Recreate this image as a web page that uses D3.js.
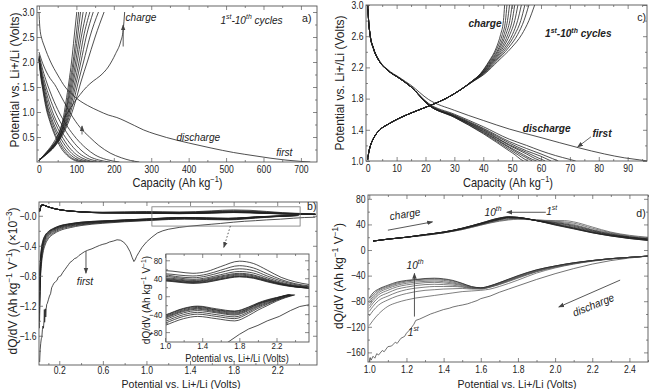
<!DOCTYPE html>
<html><head><meta charset="utf-8">
<script src="https://cdn.jsdelivr.net/npm/d3@7/dist/d3.min.js"></script>
<style>html,body{margin:0;padding:0;background:#fff;}svg{display:block;}</style>
</head><body>
<svg id="chart" width="649" height="389"></svg>
<script>
// ================= DATA =================
// ---- panel a : potential (V) vs capacity (Ah/kg) ----
const aTickX=[0,100,200,300,400,500,600,700];
const aTickY=[0.5,1.0,1.5,2.0,2.5,3.0];
const aDis1=[[0,3.0],[2,2.72],[4,2.58],[7,2.48],[15,2.3],[30,2.02],[50,1.74],[70,1.5],[90,1.34],[110,1.22],[130,1.13],[160,1.02],[185,0.94],[208,0.89],[230,0.82],[255,0.73],[280,0.64],[310,0.56],[341,0.49],[400,0.38],[460,0.28],[520,0.19],[580,0.12],[620,0.075],[660,0.038],[700,0.012],[725,0.0]];
const aDisCycles=[
 [[0,2.2],[10,1.97],[20,1.8],[30,1.67],[42,1.55],[60,1.3],[85,0.96],[110,0.69],[135,0.5],[160,0.33],[190,0.18],[220,0.085],[245,0.03],[268,0.0]],
 [[0,2.15],[8,1.9],[18,1.65],[30,1.4],[50,1.05],[75,0.72],[100,0.47],[125,0.28],[150,0.14],[180,0.05],[215,0.0]],
 [[0,2.12],[7,1.85],[16,1.58],[28,1.3],[45,0.98],[68,0.66],[90,0.42],[112,0.24],[135,0.11],[160,0.04],[190,0.0]],
 [[0,2.1],[6,1.82],[14,1.55],[25,1.25],[40,0.93],[60,0.62],[82,0.38],[102,0.21],[125,0.09],[148,0.03],[170,0.0]],
 [[0,2.08],[6,1.8],[13,1.52],[23,1.2],[37,0.9],[55,0.6],[75,0.35],[95,0.18],[115,0.08],[138,0.02],[155,0.0]],
 [[0,2.07],[5,1.78],[12,1.5],[21,1.17],[34,0.87],[51,0.57],[70,0.33],[88,0.17],[107,0.07],[128,0.02],[145,0.0]],
 [[0,2.06],[5,1.76],[11,1.48],[20,1.15],[32,0.85],[48,0.55],[65,0.31],[83,0.15],[100,0.06],[120,0.015],[135,0.0]],
 [[0,2.05],[5,1.75],[11,1.46],[19,1.13],[30,0.83],[45,0.53],[61,0.3],[78,0.14],[95,0.05],[113,0.01],[125,0.0]],
 [[0,2.04],[4,1.74],[10,1.45],[18,1.11],[29,0.81],[43,0.52],[58,0.29],[74,0.14],[90,0.05],[106,0.01],[117,0.0]]
];
const aChg1=[[0,0.03],[20,0.2],[40,0.4],[55,0.62],[65,0.84],[78,1.0],[92,1.17],[110,1.35],[127,1.5],[145,1.62],[163,1.72],[185,1.9],[205,2.17],[218,2.4],[225,2.64],[229,3.0]];
const aChgV=[0.03,0.15,0.3,0.5,0.8,1.2,1.6,2.0,2.5,3.0];
const aChgCap=[
 [0,20,41,60,79,97,112,129,150,174],
 [0,19,40,58,76,92,105,119,136,159],
 [0,18,39,57,74,88,100,112,126,145],
 [0,18,38,56,72,85,96,107,119,136],
 [0,17,37,55,70,82,92,102,113,127],
 [0,17,36,54,68,79,89,98,108,118],
 [0,16,35,53,67,77,86,94,103,111],
 [0,16,34,52,65,75,83,91,99,106],
 [0,15,33,50,63,72,80,87,94,101]
];

// ---- panel c ----
const cTickX=[0,10,20,30,40,50,60,70,80,90];
const cTickY=[1.0,1.4,1.8,2.2,2.6,3.0];
const cDis=[
 [[0,3.0],[0.3,2.8],[0.8,2.63],[2,2.45],[4,2.29],[7,2.17],[11,2.07],[15,1.97],[21,1.79],[30,1.65],[40,1.52],[49,1.41],[60,1.3],[73,1.17],[82,1.09],[89,1.04],[94,1.015],[97,1.0]],
 [[0,3.0],[0.3,2.8],[0.8,2.62],[2,2.44],[4,2.28],[7,2.16],[11,2.06],[15,1.95],[21,1.74],[30,1.6],[40,1.44],[49,1.28],[55,1.2],[60,1.13],[65,1.07],[70,1.02],[72,1.0]],
 [[0,3.0],[0.3,2.8],[0.8,2.62],[2,2.44],[4,2.28],[7,2.16],[11,2.06],[15,1.95],[21,1.73],[30,1.59],[40,1.42],[49,1.25],[55,1.16],[60,1.09],[64,1.03],[66,1.0]],
 [[0,3.0],[0.3,2.8],[0.8,2.62],[2,2.44],[4,2.28],[7,2.16],[11,2.06],[15,1.95],[21,1.73],[30,1.58],[40,1.41],[49,1.23],[55,1.13],[60,1.06],[63.5,1.0]],
 [[0,3.0],[0.3,2.8],[0.8,2.62],[2,2.44],[4,2.28],[7,2.16],[11,2.06],[15,1.95],[21,1.72],[30,1.58],[40,1.4],[49,1.21],[55,1.11],[59,1.04],[61.5,1.0]],
 [[0,3.0],[0.3,2.8],[0.8,2.62],[2,2.44],[4,2.28],[7,2.16],[11,2.06],[15,1.95],[21,1.72],[30,1.57],[40,1.39],[49,1.2],[55,1.09],[58,1.03],[60,1.0]],
 [[0,3.0],[0.3,2.8],[0.8,2.62],[2,2.44],[4,2.28],[7,2.16],[11,2.06],[15,1.95],[21,1.72],[30,1.57],[40,1.38],[49,1.18],[54,1.08],[57,1.02],[58.5,1.0]],
 [[0,3.0],[0.3,2.8],[0.8,2.62],[2,2.44],[4,2.28],[7,2.16],[11,2.06],[15,1.95],[21,1.72],[30,1.57],[40,1.37],[49,1.17],[53,1.08],[56,1.02],[57,1.0]],
 [[0,3.0],[0.3,2.8],[0.8,2.62],[2,2.44],[4,2.28],[7,2.16],[11,2.06],[15,1.95],[21,1.72],[30,1.56],[40,1.36],[49,1.15],[52,1.08],[54.5,1.02],[55.5,1.0]],
 [[0,3.0],[0.3,2.8],[0.8,2.62],[2,2.44],[4,2.28],[7,2.16],[11,2.06],[15,1.95],[21,1.72],[30,1.56],[40,1.35],[49,1.13],[51,1.08],[53,1.02],[54,1.0]]
];
const cChgV=[1.02,1.1,1.18,1.29,1.4,1.47,1.55,1.63,1.71,1.8,1.91,2.02,2.12,2.28,2.45,2.62,2.8,3.0];
const cChgCap=[
 [0,0.3,0.8,2,4.2,7,11,16,21.5,27,32,36.5,40.6,45.1,49.7,53.3,55.8,57.8],
 [0,0.3,0.8,2,4.2,7,11,16,21.5,27,32,36.4,40.3,44.5,48.7,51.9,54.1,55.8],
 [0,0.3,0.8,2,4.2,7,11,16,21.5,27,32,36.3,40.0,44.1,48.0,50.9,53.0,54.4],
 [0,0.3,0.8,2,4.2,7,11,16,21.5,27,32,36.2,39.9,43.7,47.4,50.1,51.9,53.2],
 [0,0.3,0.8,2,4.2,7,11,16,21.5,27,32,36.1,39.7,43.4,46.8,49.2,50.9,52.0],
 [0,0.3,0.8,2,4.2,7,11,16,21.5,27,32,36.1,39.5,43.1,46.3,48.5,50.0,50.9],
 [0,0.3,0.8,2,4.2,7,11,16,21.5,27,32,36,39.4,42.8,45.8,47.8,49.2,50.0],
 [0,0.3,0.8,2,4.2,7,11,16,21.5,27,32,36,39.3,42.5,45.4,47.2,48.4,49.1],
 [0,0.3,0.8,2,4.2,7,11,16,21.5,27,32,36,39.1,42.2,44.9,46.6,47.7,48.2],
 [0,0.3,0.8,2,4.2,7,11,16,21.5,27,32,36,39.0,42.0,44.5,46.0,47.0,47.4]
];

// ---- panel b : dQ/dV (Ah kg-1 V-1) vs potential ----
const bTickX=[0.2,0.6,1.0,1.4,1.8,2.2];
const bTickY=[0,-400,-800,-1200,-1600];
const insTickX=[1.0,1.4,1.8,2.2];
const insTickY=[80,40,0,-40,-80];
const bChgV=[0.02,0.03,0.04,0.06,0.1,0.15,0.2,0.3,0.4,0.6,0.8,1.0,1.15,1.3,1.45,1.6,1.8,1.95,2.1,2.25,2.4,2.55];
const bChg=[
 [60,120,145,140,118,97,82,64,54,48,52,57,54,51,55,66,78,73,58,42,32,26],
 [60,120,145,140,118,97,82,63,53,45,48,50,47,45,49,58,68,63,50,37,28,23],
 [60,120,145,140,118,97,82,63,52,43,45,47,43,41,45,53,61,57,45,34,26,21],
 [60,120,145,140,118,97,82,63,52,42,43,44,40.5,37.5,41,48,55,51.5,41,31,24,20],
 [60,120,145,140,118,97,82,63,52,41,41,41,38,35,38.5,45,51,47.5,38,29,23,19],
 [60,120,145,140,118,97,82,63,52,40,40,39,36,33,36.5,43,49,45.5,36.5,28,22,18.5],
 [60,120,145,140,118,97,82,63,52,40,38.5,37.5,34.5,32,35,41,47,43.5,35,27,21.5,18],
 [60,120,145,140,118,97,82,63,52,39,37,36,33,30.5,33.5,39,45,42,34,26.5,21,18],
 [60,120,145,140,118,97,82,63,52,39,36,35,32,29.5,32,38,44,41,33,26,21,18],
 [60,120,145,140,118,97,82,63,52,38,35,34,31,28.5,31,37,43,40,32,25,20.5,18]
];
const bDisV=[0.018,0.025,0.035,0.05,0.07,0.1,0.15,0.2,0.3,0.4,0.6,0.8,1.0,1.2,1.35,1.55,1.75,1.9,2.0,2.1,2.2,2.3];
const bDis=[
 [-1500,-950,-680,-500,-390,-305,-240,-200,-158,-130,-100,-80,-65,-50,-45,-50,-55,-43,-31,-21,-11,-3],
 [-1400,-880,-630,-460,-360,-285,-225,-185,-145,-120,-92,-74,-60,-45,-40,-45,-50,-38,-27,-18,-9,-2],
 [-1300,-820,-590,-430,-335,-265,-210,-172,-135,-112,-86,-69,-56,-41,-36,-41,-46,-35,-24,-16,-8,-1],
 [-1250,-780,-560,-405,-315,-250,-198,-162,-127,-105,-81,-65,-52,-37,-32,-37,-42,-32,-22,-14,-7,0],
 [-1200,-740,-530,-385,-300,-238,-188,-154,-120,-99,-77,-62,-49,-34,-29,-35,-40,-30,-20,-12,-6,1],
 [-1150,-710,-505,-368,-287,-228,-180,-147,-114,-94,-74,-59,-47,-32,-27,-33,-38,-28,-18,-11,-5,1.5],
 [-1100,-690,-485,-355,-277,-220,-174,-142,-110,-90,-71,-57,-45,-30,-25,-31,-36,-27,-17,-10,-4,2],
 [-1050,-670,-465,-342,-268,-214,-169,-138,-107,-87,-69,-56,-43,-28,-23,-30,-34,-25,-16,-9,-3.5,2],
 [-1000,-650,-450,-330,-260,-210,-165,-135,-105,-85,-68,-55,-42,-27,-22,-28,-33,-24,-15,-8,-3,1]
];
const bDisEnd=[[2.4,3],[2.39,3],[2.38,3],[2.37,3],[2.36,3],[2.35,3],[2.35,3.5],[2.34,3.5],[2.33,3]];
const bDis1=[[0.02,-1950],[0.025,-1780],[0.03,-1700],[0.035,-1640],[0.04,-1620],[0.045,-1520],[0.05,-1470],[0.055,-1500],[0.06,-1400],[0.063,-1250],[0.066,-1420],[0.07,-1300],[0.073,-1240],[0.076,-1350],[0.08,-1240],[0.085,-1180],[0.09,-1170],[0.1,-1120],[0.11,-1070],[0.12,-1040],[0.13,-960],[0.14,-930],[0.15,-900],[0.165,-880],[0.18,-860],[0.19,-820],[0.2,-810],[0.215,-800],[0.23,-760],[0.25,-720],[0.27,-680],[0.285,-650],[0.3,-620],[0.32,-600],[0.34,-570],[0.36,-560],[0.38,-530],[0.4,-510],[0.43,-480],[0.46,-460],[0.5,-440],[0.53,-420],[0.57,-395],[0.6,-380],[0.63,-370],[0.66,-350],[0.7,-335],[0.73,-320],[0.76,-325],[0.79,-350],[0.82,-400],[0.85,-480],[0.87,-560],[0.885,-610],[0.895,-590],[0.91,-540],[0.93,-490],[0.96,-420],[1.0,-350],[1.05,-285],[1.1,-230],[1.15,-200],[1.2,-180],[1.3,-155],[1.4,-138],[1.5,-125],[1.6,-112],[1.68,-102],[1.8,-85],[1.9,-73],[2.0,-65],[2.1,-55],[2.23,-45],[2.35,-32],[2.45,-23],[2.55,-19]];

// ---- panel d ----
const dTickX=[1.0,1.2,1.4,1.6,1.8,2.0,2.2,2.4];
const dTickY=[80,40,0,-40,-80,-120,-160];
const dChgV=[1.02,1.1,1.2,1.3,1.4,1.5,1.6,1.7,1.75,1.8,1.9,2.0,2.05,2.1,2.2,2.3,2.4,2.5];
const dChg=[
 [14,17,20,23,27,32,39,45,47,48,47,46,46,44,36,28,23,20],
 [14,17,20,23,27,32,39,46,48,49,47,45,44,42,34,27,22,19],
 [14,17,20,23,27,33,40,47,49,49.5,46.5,44,42.5,40,32,26,21,18],
 [14,17,20,24,27,33,40,47.5,50,50,46,43,41,38.5,31,25,20.5,17.5],
 [14,17,20,24,28,33,41,48,50.5,50.5,46,42,40,37,30,24,20,17],
 [14,17,20,24,28,33.5,41,48.5,51,50.5,46,41,38.5,35.5,29,23.5,19.5,16.5],
 [14,17,20,24,28,34,41.5,49,51.5,51,46,40.5,37.5,34.5,28,23,19,16],
 [14,17,20,24,28,34,41.5,49.5,51.5,51,46,40,37,34,27.5,22.5,18.5,15.5],
 [14,17,20,24,28,34,42,50,52,51,46,39.5,36.5,33.5,27,22,18,15],
 [14,17,20,24,28,34,42,50,52,51,46,39,36,33,27,22,18,15]
];
const dDisV=[1.0,1.02,1.05,1.1,1.15,1.2,1.25,1.3,1.35,1.4,1.45,1.5,1.55,1.6,1.65,1.7,1.8,1.9,2.0,2.1,2.2,2.3,2.4,2.5];
const dDis=[
 [-118,-110,-100,-88,-82,-78,-75,-73,-71,-69,-67,-65,-64,-63,-61,-57,-47,-36,-28,-22,-17.5,-14,-11.5,-9.5],
 [-103,-95,-86,-78,-72,-68,-65,-63,-62,-61,-60.5,-60,-61,-61,-58,-54,-44,-34,-27,-21.5,-17,-14,-11.5,-9.5],
 [-96,-88,-79,-72,-66,-62,-59.5,-58,-57,-57,-57,-58,-60,-60.5,-58,-53.5,-43,-33.5,-26.5,-21,-17,-13.5,-11.5,-9.5],
 [-91,-83,-74,-67,-61,-58,-55.5,-54,-53.5,-54,-55,-57,-59.5,-60,-57.5,-53,-42.5,-33,-26,-21,-16.5,-13.5,-11.5,-9.5],
 [-87,-79,-70,-63,-57.5,-54.5,-52.5,-51,-50.5,-51.5,-53,-55.5,-59,-60,-57,-52.5,-42,-32.5,-25.5,-20.5,-16.5,-13.5,-11.5,-9.5],
 [-83,-76,-67,-60,-55,-52,-50,-49,-48.5,-49.5,-51.5,-54.5,-58.5,-59.5,-56.5,-52,-41.5,-32,-25.5,-20.5,-16.5,-13.5,-11.5,-9.5],
 [-80,-73,-64.5,-58,-53,-50,-48,-47,-46.5,-47.5,-50,-53.5,-58,-59.5,-56.5,-51.5,-41,-31.5,-25,-20,-16.5,-13.5,-11.5,-9.5],
 [-77,-70,-62.5,-56.5,-51.5,-48.5,-46.5,-45.5,-45,-46,-48.5,-52.5,-57.5,-59,-56,-51,-40.5,-31,-25,-20,-16.5,-13.5,-11.5,-9.5],
 [-75,-67,-61,-55,-50,-47.5,-46,-44.5,-44,-45,-47.5,-52,-57,-59,-56,-51,-40,-31,-25,-20,-16.5,-13.5,-11.5,-9.5]
];
const dDis1=[[1.0,-175],[1.005,-168],[1.01,-172],[1.02,-166],[1.03,-169],[1.04,-162],[1.05,-164],[1.07,-157],[1.08,-159],[1.1,-151],[1.12,-150],[1.14,-144],[1.15,-146],[1.17,-138],[1.19,-135],[1.2,-130],[1.22,-124],[1.24,-116],[1.25,-110],[1.27,-108],[1.3,-104],[1.33,-100],[1.35,-98],[1.38,-95],[1.4,-93],[1.43,-91],[1.45,-89],[1.48,-87],[1.5,-86],[1.53,-84],[1.55,-82],[1.58,-79],[1.6,-76],[1.65,-72],[1.7,-66],[1.75,-61],[1.8,-56],[1.9,-46],[2.0,-37],[2.1,-29],[2.2,-22],[2.3,-16.5],[2.4,-12.5],[2.5,-9.5]];

// ================= DRAWING =================
const FONT='Arial,"Liberation Sans",Helvetica,sans-serif';
const svg=d3.select('#chart');
const defs=svg.append('defs');
defs.append('marker').attr('id','ah').attr('viewBox','0 0 8 8').attr('refX',7).attr('refY',4)
  .attr('markerWidth',6).attr('markerHeight',6).attr('markerUnits','userSpaceOnUse').attr('orient','auto')
  .append('path').attr('d','M0,1 L8,4 L0,7 Z').attr('fill','#444');

function makePanel(o){
  const x=d3.scaleLinear().domain(o.xd).range([o.l,o.r]);
  const y=d3.scaleLinear().domain(o.yd).range([o.b,o.t]);
  const root=svg.append('g');
  root.append('rect').attr('x',o.l).attr('y',o.t).attr('width',o.r-o.l).attr('height',o.b-o.t).attr('fill','#fff');
  defs.append('clipPath').attr('id','clip-'+o.id).append('rect')
    .attr('x',o.l).attr('y',o.t).attr('width',o.r-o.l).attr('height',o.b-o.t);
  const plot=root.append('g').attr('clip-path',`url(#clip-${o.id})`);
  const ax=root.append('g');
  const fs=o.fs||10.5, tsx=o.tsx||0.82;
  function axis(gen,tr,vals,size,fmt,pad){
    const a=ax.append('g').attr('transform',tr)
      .call(gen.tickValues(vals).tickSizeInner(size).tickSizeOuter(0).tickPadding(pad).tickFormat(fmt));
    a.select('.domain').remove();
    a.selectAll('line').attr('stroke','#555').attr('stroke-width',0.7);
    a.selectAll('text').attr('font-family',FONT).attr('font-size',fs).attr('fill','#222')
      .attr('transform',`scale(${tsx},1)`);
    return a;
  }
  const none=()=> '';
  axis(d3.axisBottom(x),`translate(0,${o.b})`,o.xt,-4,o.xf,o.xpad??4);
  axis(d3.axisBottom(x),`translate(0,${o.b})`,o.xm,-2,none,4);
  axis(d3.axisTop(x),`translate(0,${o.t})`,o.xt,-4,none,4);
  axis(d3.axisTop(x),`translate(0,${o.t})`,o.xm,-2,none,4);
  axis(d3.axisLeft(y),`translate(${o.l},0)`,o.yt,-4,o.yf,o.ypad??3);
  axis(d3.axisLeft(y),`translate(${o.l},0)`,o.ym,-2,none,3);
  axis(d3.axisRight(y),`translate(${o.r},0)`,o.yt,-4,none,3);
  axis(d3.axisRight(y),`translate(${o.r},0)`,o.ym,-2,none,3);
  root.append('rect').attr('x',o.l).attr('y',o.t).attr('width',o.r-o.l).attr('height',o.b-o.t)
    .attr('fill','none').attr('stroke','#555').attr('stroke-width',0.9);
  return {x,y,plot,root};
}

function draw(P,data,opt={}){
  const ln=d3.line().x(d=>P.x(d[0])).y(d=>P.y(d[1])).curve(opt.curve||d3.curveMonotoneX);
  P.plot.append('path').datum(data).attr('d',ln).attr('fill','none')
    .attr('stroke',opt.color||'#222').attr('stroke-width',opt.w||0.8).attr('stroke-linejoin','round');
}

function label(parent,x,y,parts,o={}){
  const size=o.size||12;
  const g=parent.append('g').attr('transform',`translate(${x},${y})`+(o.rot?` rotate(${o.rot})`:'')+` scale(${o.sx??0.92},1)`);
  const t=g.append('text').attr('text-anchor',o.anchor||'middle').attr('font-size',size)
    .attr('font-family',FONT).attr('fill',o.fill||'#222').attr('dy','0.35em');
  if(o.italic) t.attr('font-style','italic');
  if(o.bold) t.attr('font-weight','bold');
  if(typeof parts==='string') parts=[parts];
  let shifted=false;
  parts.forEach(p=>{
    if(typeof p==='string'){ const s=t.append('tspan').text(p); if(shifted){s.attr('dy',(size*0.4).toFixed(2)); shifted=false;} }
    else { t.append('tspan').text(p.sup).attr('font-size',(size*0.68).toFixed(2)).attr('dy',(-size*0.4).toFixed(2)); shifted=true; }
  });
  return g;
}
function arrow(parent,x1,y1,x2,y2,o={}){
  parent.append('line').attr('x1',x1).attr('y1',y1).attr('x2',x2).attr('y2',y2)
    .attr('stroke',o.color||'#444').attr('stroke-width',o.w||0.9)
    .attr('stroke-dasharray',o.dash||null).attr('marker-end','url(#ah)');
}
const f1=d3.format('.1f'), fd=d3.format('d');

// ---------- panel a ----------
const A=makePanel({id:'a',l:37,r:317,t:6,b:162,xd:[-5.3,743],yd:[0,3.12],
  xt:aTickX,xm:d3.range(50,743,50).filter(v=>v%100),xf:fd,
  yt:aTickY,ym:d3.range(0.25,3.1,0.25).filter(v=>Math.abs(v*2-Math.round(v*2))>0.01),yf:f1});
aDisCycles.forEach(c=>draw(A,c));
draw(A,aDis1);
aChgCap.forEach(c=>draw(A,d3.zip(c,aChgV)));
draw(A,aChg1);
arrow(A.root,A.x(225),A.y(2.31),A.x(225),A.y(2.74));
arrow(A.root,A.x(115),A.y(0.55),A.x(115),A.y(0.72),{w:0.8});
label(svg,177.5,182.7,['Capacity (Ah kg',{sup:'−1'},')']);
label(svg,15,80,'Potential vs. Li+/Li (Volts)',{rot:-90,sx:1});
label(svg,141,16.7,'charge',{italic:true,size:11});
label(svg,251.5,20,['1',{sup:'st'},'-10',{sup:'th'},' cycles'],{italic:true,size:11});
label(svg,198.3,136.7,'discharge',{italic:true,size:11});
label(svg,284.3,151.7,'first',{italic:true,size:11});
label(svg,306.7,18.3,'a)',{size:11.5});

// ---------- panel c ----------
const C=makePanel({id:'c',l:366,r:647,t:5,b:161,xd:[-0.6,96.7],yd:[1.0,3.0],
  xt:cTickX,xm:d3.range(5,96,10),xf:fd,
  yt:cTickY,ym:[1.2,1.6,2.0,2.4,2.8],yf:f1});
cDis.forEach(c=>draw(C,c));
cChgCap.forEach(c=>draw(C,d3.zip(c,cChgV)));
arrow(C.root,C.x(77.3),C.y(1.31),C.x(72.7),C.y(1.18),{w:0.8});
label(svg,508,182.7,['Capacity (Ah kg',{sup:'−1'},')']);
label(svg,340,83,'Potential vs. Li+/Li (Volts)',{rot:-90,sx:1});
label(svg,485,22.7,'charge',{italic:true,bold:true,size:11});
label(svg,578.3,33.3,['1',{sup:'st'},'-10',{sup:'th'},' cycles'],{italic:true,bold:true,size:11});
label(svg,546.7,127.7,'discharge',{italic:true,bold:true,size:11});
label(svg,602,133.3,'first',{italic:true,bold:true,size:11});
label(svg,641.7,16.7,'c)',{size:11.5});

// ---------- panel b ----------
const B=makePanel({id:'b',l:39,r:317,t:202,b:365,xd:[0.014,2.565],yd:[-1990,184],
  xt:bTickX,xm:[0.1,0.4,0.8,1.2,1.6,2.0,2.4],xf:f1,xpad:1.5,
  yt:bTickY,ym:[-200,-600,-1000,-1400,-1800],yf:d=>d===0?'−0.0':f1(d/1000)});
bDis.forEach((c,i)=>draw(B,d3.zip(bDisV,c).concat([bDisEnd[i]])));
bChg.forEach(c=>draw(B,d3.zip(bChgV,c)));
draw(B,bDis1,{curve:d3.curveLinear,w:0.8});
B.root.append('rect').attr('x',B.x(1.05)).attr('y',B.y(120)).attr('width',B.x(2.41)-B.x(1.05))
  .attr('height',B.y(-137)-B.y(120)).attr('fill','none').attr('stroke','#777').attr('stroke-width',0.8);
arrow(B.root,B.x(1.77),B.y(-137),B.x(1.71),B.y(-420),{dash:'1.5,2',w:0.9});
arrow(B.root,B.x(0.445),B.y(-471),B.x(0.445),B.y(-765));
label(svg,85,280.7,'first',{italic:true,size:11});
label(svg,181,384,'Potential vs. Li+/Li (Volts)',{size:11.5});
label(svg,13,281,['dQ/dV (Ah kg',{sup:'−1'},' V',{sup:'−1'},') (×10',{sup:'−3'},')'],{rot:-90,sx:1});
label(svg,311.7,206,'b)',{size:11.5});

// inset
const I=makePanel({id:'i',l:166,r:309,t:254,b:342,xd:[1.01,2.55],yd:[-102,94],
  xt:insTickX,xm:[1.2,1.6,2.0,2.4],xf:f1,xpad:1,fs:9,tsx:0.88,
  yt:insTickY,ym:[60,20,-20,-60],yf:fd,ypad:4});
bDis.forEach((c,i)=>draw(I,d3.zip(bDisV,c).concat([bDisEnd[i]])));
bChg.forEach(c=>draw(I,d3.zip(bChgV,c)));
draw(I,bDis1,{curve:d3.curveLinear});
label(svg,237,358.5,'Potential vs. Li+/Li (Volts)',{size:10});
label(svg,146,300,['dQ/dV (Ah kg',{sup:'−1'},' V',{sup:'−1'},')'],{rot:-90,sx:1,size:10});

// ---------- panel d ----------
const D=makePanel({id:'d',l:368,r:648,t:195,b:362,xd:[0.993,2.5],yd:[-175,86],
  xt:dTickX,xm:[1.1,1.3,1.5,1.7,1.9,2.1,2.3,2.5],xf:f1,
  yt:dTickY,ym:[60,20,-20,-60,-100,-140],yf:fd});
dDis.forEach((c,i)=>draw(D,d3.zip(dDisV,c),{color:i===dDis.length-1?'#222':'#555',w:0.75}));
draw(D,dDis1,{curve:d3.curveLinear,color:'#444',w:0.75});
dChg.forEach((c,i)=>draw(D,d3.zip(dChgV,c),{color:i<3?'#555':'#222',w:0.75}));
arrow(D.root,D.x(1.10),D.y(31),D.x(1.34),D.y(44));
arrow(D.root,D.x(1.95),D.y(59),D.x(1.74),D.y(59));
arrow(D.root,D.x(1.243),D.y(-104),D.x(1.243),D.y(-36.5));
arrow(D.root,D.x(2.35),D.y(-47),D.x(2.02),D.y(-89));
label(svg,405,214,'charge',{italic:true,size:11,rot:-9});
label(svg,493,211.7,['10',{sup:'th'}],{italic:true,size:11});
label(svg,551.7,210.7,['1',{sup:'st'}],{italic:true,size:11});
label(svg,415,265,['10',{sup:'th'}],{italic:true,size:11});
label(svg,413.3,331.7,['1',{sup:'st'}],{italic:true,size:11});
label(svg,593.3,305,'discharge',{italic:true,size:11,rot:-22});
label(svg,517,383.5,'Potential vs. Li+/Li (Volts)',{size:11.5});
label(svg,338.5,276,['dQ/dV (Ah kg',{sup:'−1'},' V',{sup:'−1'},')'],{rot:-90,sx:1});
label(svg,641,212.7,'d)',{size:11.5});
</script>
</body></html>
